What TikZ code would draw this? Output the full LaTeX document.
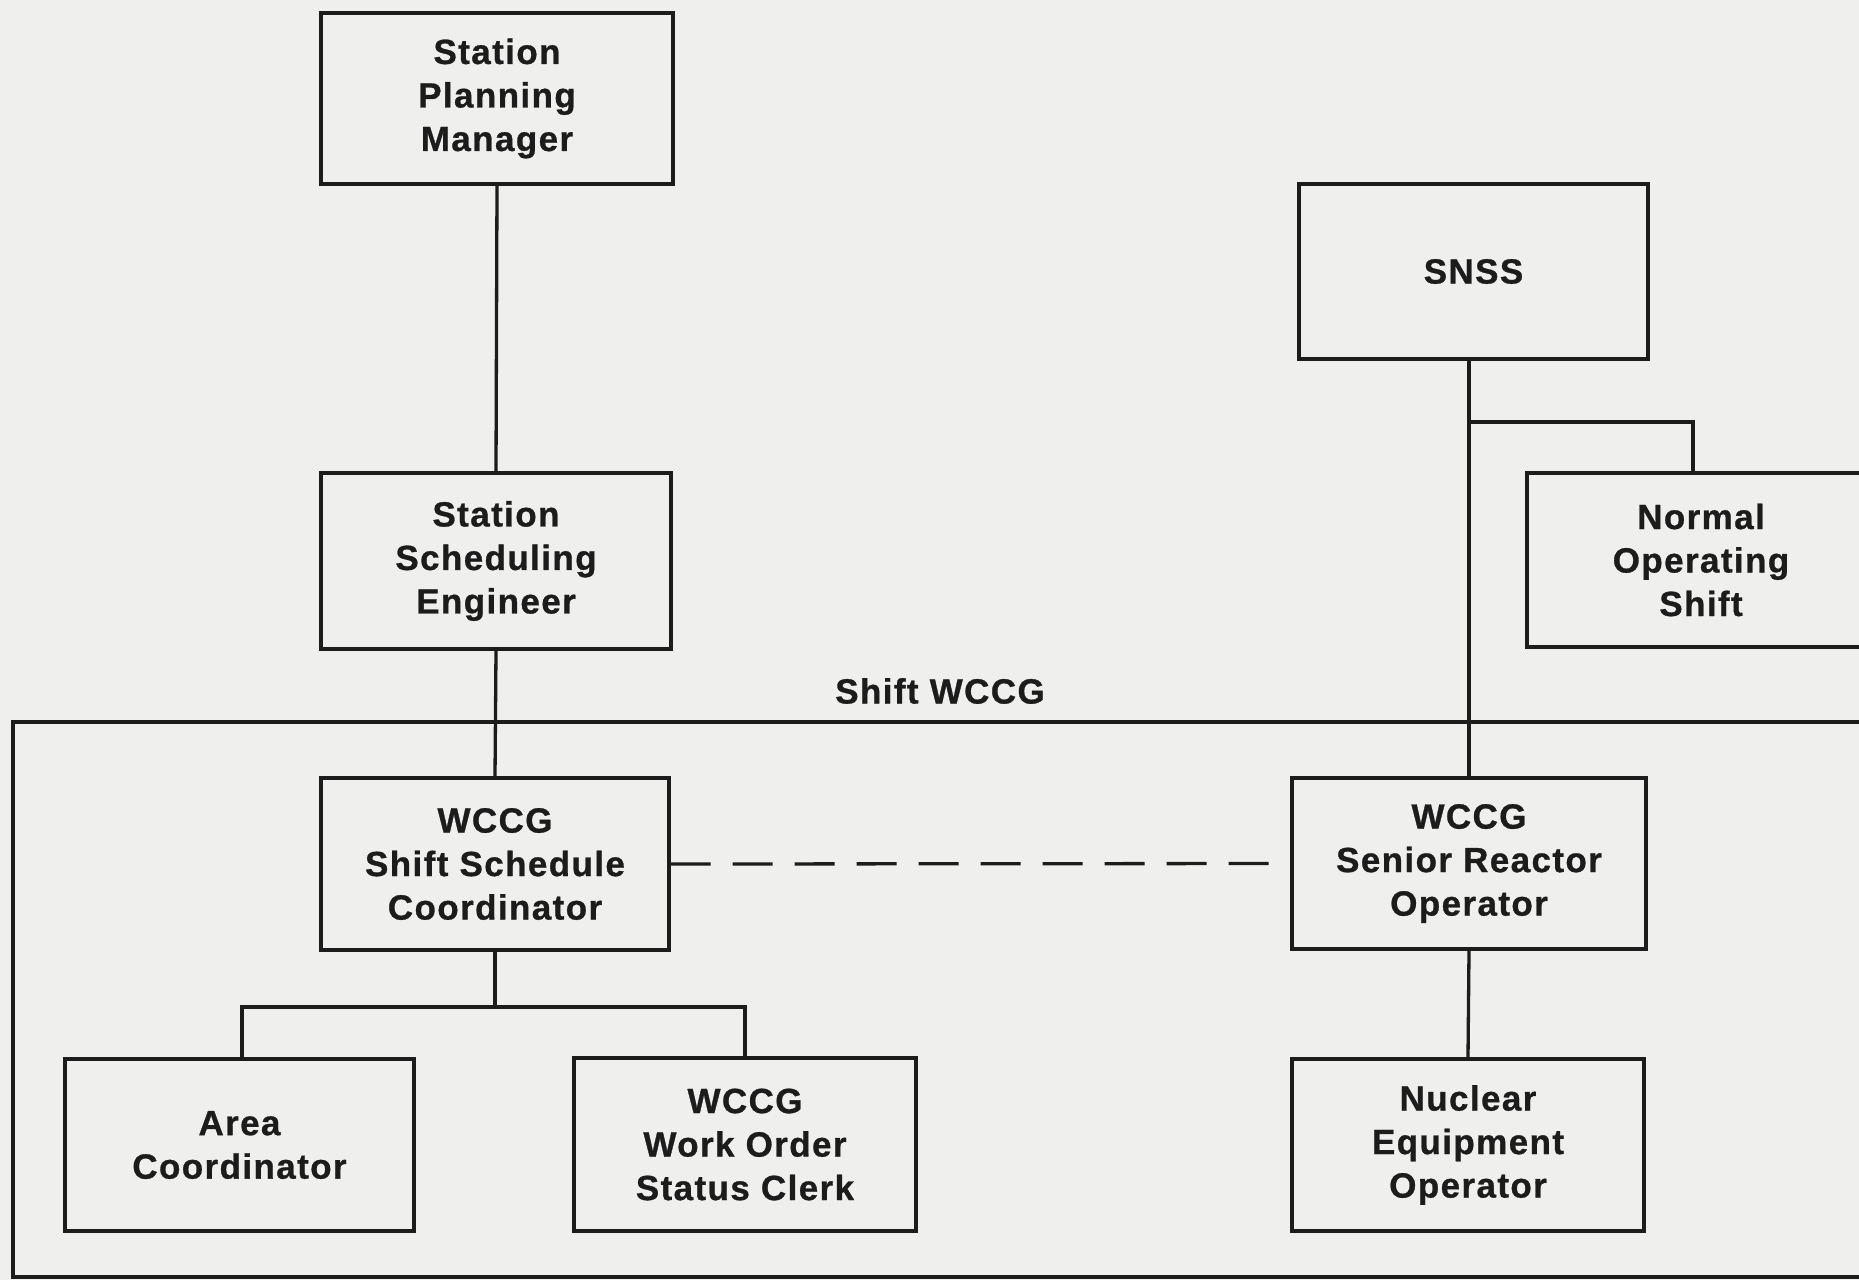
\documentclass[tikz,border=0pt]{standalone}
\usepackage{fontspec}
\setmainfont{Liberation Sans}[LetterSpace=4, BoldFeatures={FakeBold=0.8}]
\definecolor{paper}{RGB}{239,239,237}
\definecolor{ink}{RGB}{28,28,28}
\begin{document}
\begin{tikzpicture}[x=1pt,y=-1pt,
  box/.style={draw=ink, line width=3.3pt, fill=none, align=center, inner sep=0pt,
    font=\fontsize{35}{43.5}\selectfont\bfseries, text=ink},
  link/.style={draw=ink, line width=3.3pt},
  lbl/.style={font=\fontsize{35}{43.5}\selectfont\bfseries, text=ink}]
\useasboundingbox (0,0) rectangle (1859,1280);
\clip (0,0) rectangle (1859,1280);
\fill[paper] (0,0) rectangle (1859,1280);
% group frame
\draw[link] (13,722) rectangle (1900,1277);
\node[lbl] (grp) at (940,691) {Shift WCCG};
% boxes
\node[box, minimum width=352, minimum height=171] (spm) at (497,98.5) {Station\\Planning\\Manager};
\node[box, minimum width=349, minimum height=175] (snss) at (1473.5,271.5) {SNSS};
\node[box, minimum width=350, minimum height=176] (sse) at (496,561) {Station\\Scheduling\\Engineer};
\node[box, minimum width=348, minimum height=174] (nos) at (1701,560) {Normal\\Operating\\Shift};
\node[box, minimum width=348, minimum height=172] (ssc) at (495,864) {WCCG\\Shift Schedule\\Coordinator};
\node[box, minimum width=354, minimum height=171] (sro) at (1469,863.5) {WCCG\\Senior Reactor\\Operator};
\node[box, minimum width=349, minimum height=172] (ac) at (239.5,1145) {Area\\Coordinator};
\node[box, minimum width=342, minimum height=173] (wosc) at (745,1144.5) {WCCG\\Work Order\\Status Clerk};
\node[box, minimum width=352, minimum height=172] (neo) at (1468,1145) {Nuclear\\Equipment\\Operator};
% connectors
\draw[link] (spm.south) -- (sse.north);
\draw[link] (sse.south) -- (ssc.north);
\draw[link] (snss.south -| sro.north) -- (sro.north);
\coordinate (nosfork) at (1470,422);
\draw[link] (nosfork) -| (nos.north -| 1693,0);
\draw[link, dash pattern=on 40pt off 22pt] (ssc.east) -- (sro.west);
\coordinate (fork) at (495,1007);
\draw[link] (ssc.south) -- (fork);
\draw[link] (ac.north -| 242,0) |- (fork) -| (wosc.north);
\draw[link] (sro.south) -- (neo.north);
\end{tikzpicture}
\end{document}
